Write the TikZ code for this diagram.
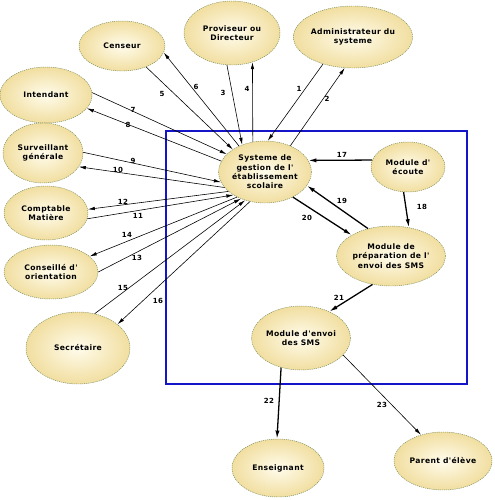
\documentclass[tikz,border=0pt]{standalone}
\usepackage{fontspec}
\newfontfamily\dfdfont[LetterSpace=5]{DejaVu Sans}
\usetikzlibrary{shapes.geometric, arrows.meta}

\definecolor{entin}{RGB}{255,252,236}
\definecolor{entout}{RGB}{241,222,160}
\definecolor{entline}{RGB}{120,140,90}
\definecolor{sysblue}{RGB}{20,20,200}

\begin{document}
\begin{tikzpicture}[x=0.03cm, y=-0.03cm,
    every node/.style={font=\dfdfont\bfseries\fontsize{6.5}{8}\selectfont}]
  % -----------------------------
  % STYLES
  % -----------------------------
  \tikzset{
    ent/.style 2 args={ellipse, draw=entline, dash pattern=on 1pt off 0.8pt,
      line width=0.4pt, inner color=entin, outer color=entout,
      align=center, inner sep=0pt,
      minimum width={#1*0.06cm}, minimum height={#2*0.06cm}},
    flow/.style={-{Latex[length=6pt,width=3pt]}, line width=0.5pt},
    flowb/.style={-{Latex[length=7pt,width=3.6pt]}, line width=1.1pt},
    num/.style={font=\dfdfont\bfseries\fontsize{6}{7}\selectfont},
  }

  \useasboundingbox (0,0) rectangle (494,500);

  % -----------------------------
  % SYSTEM BOUNDARY
  % -----------------------------
  \draw[sysblue, line width=1.2pt] (166,131) rectangle (467,384);

  % -----------------------------
  % EXTERNAL ACTORS
  % -----------------------------
  \node[ent={43}{25}] (cens)  at (122,46)  {Censeur};
  \node[ent={48}{32}] (prov)  at (232,33)  {Proviseur ou\\Directeur};
  \node[ent={46}{31}] (admin) at (353,37)  {Administrateur du\\systeme};
  \node[ent={46}{28}] (inten) at (46,95)   {Intendant};
  \node[ent={40}{30}] (surv)  at (43,153)  {Surveillant\\générale};
  \node[ent={42}{27}] (compt) at (46,213)  {Comptable\\Matière};
  \node[ent={47}{27}] (cons)  at (51,272)  {Conseillé d'\\orientation};
  \node[ent={52}{36}] (secr)  at (78,348)  {Secrétaire};
  \node[ent={46}{29}] (ens)   at (278,468) {Enseignant};
  \node[ent={49}{29}] (par)   at (443,461) {Parent d'élève};

  % -----------------------------
  % INTERNAL PROCESSES
  % -----------------------------
  \node[ent={46}{31}] (sys)   at (265,172) {Systeme de\\gestion de l'\\établissement\\scolaire};
  \node[ent={37}{25}] (ecou)  at (408,167) {Module d'\\écoute};
  \node[ent={45}{30}] (prep)  at (391,256) {Module de\\préparation de l'\\envoi des SMS};
  \node[ent={48}{32}] (envoi) at (301,338) {Module d'envoi\\des SMS};

  % -----------------------------
  % FLOWS
  % -----------------------------
  \draw[flow] (admin.222) -- (sys.85);
  \draw[flow] (sys.46) -- (admin.255);
  \draw[flow] (prov.261) -- (sys.130);
  \draw[flow] (sys.112) -- (prov.305);
  \draw[flow] (cens.319) -- (sys.145);
  \draw[flow] (sys.135) -- (cens.351);
  \draw[flow] (inten.3) -- (sys.155);
  \draw[flow] (sys.166) -- (inten.342);
  \draw[flow] (surv.1) -- (sys.193);
  \draw[flow] (sys.201) -- (surv.339);
  \draw[flow] (compt.352) -- (sys.216);
  \draw[flow] (sys.208) -- (compt.5);
  \draw[flow] (cons.0) -- (sys.228);
  \draw[flow] (sys.222) -- (cons.22);
  \draw[flow] (secr.64) -- (sys.235);
  \draw[flow] (sys.243) -- (secr.31);

  \draw[flowb] (ecou.169) -- (sys.15);
  \draw[flowb] (ecou.260) -- (prep.58);
  \draw[flowb] (prep.130) -- (sys.342);
  \draw[flowb] (sys.318) -- (prep.152);
  \draw[flowb] (prep.237) -- (envoi.43);
  \draw[flowb] (envoi.236) -- (ens.92);
  \draw[flow] (envoi.338) -- (par.130);

  % Flow numbers
  \node[num] (n1)  at (299,89)  {1};
  \node[num] (n2)  at (327,99)  {2};
  \node[num] (n3)  at (223,93)  {3};
  \node[num] (n4)  at (247,89)  {4};
  \node[num] (n5)  at (162,94)  {5};
  \node[num] (n6)  at (196,87)  {6};
  \node[num] (n7)  at (133,110) {7};
  \node[num] (n8)  at (128,125) {8};
  \node[num] (n9)  at (133,161) {9};
  \node[num] (n10) at (118,170) {10};
  \node[num] (n11) at (138,216) {11};
  \node[num] (n12) at (123,202) {12};
  \node[num] (n13) at (137,258) {13};
  \node[num] (n14) at (127,235) {14};
  \node[num] (n15) at (123,288) {15};
  \node[num] (n16) at (158,301) {16};
  \node[num] (n17) at (342,155) {17};
  \node[num] (n18) at (422,207) {18};
  \node[num] (n19) at (342,201) {19};
  \node[num] (n20) at (307,218) {20};
  \node[num] (n21) at (339,298) {21};
  \node[num] (n22) at (269,401) {22};
  \node[num] (n23) at (382,405) {23};
\end{tikzpicture}
\end{document}
